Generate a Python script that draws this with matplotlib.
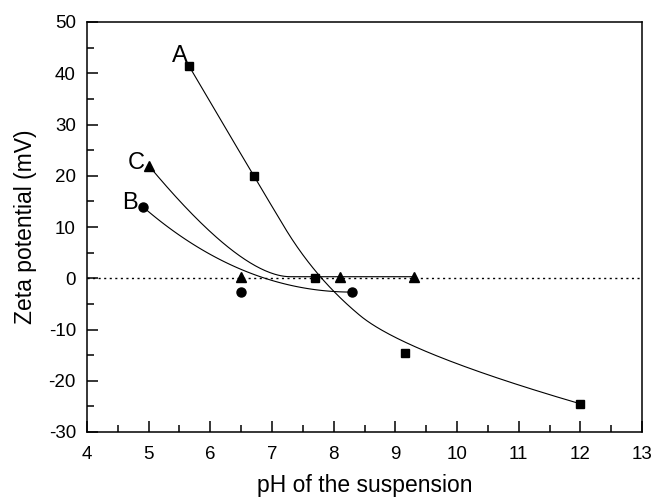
import numpy as np
import matplotlib
matplotlib.use('Agg')
import matplotlib.pyplot as plt
from matplotlib.ticker import MultipleLocator

plt.rcParams['font.family'] = ['Liberation Sans', 'DejaVu Sans']
plt.rcParams['axes.unicode_minus'] = False

# sample A (squares)
ph_a = [5.65, 6.7, 7.7, 9.15, 12.0]
zeta_a = [41.5, 20.0, 0.0, -14.5, -24.5]
# sample B (circles)
ph_b = [4.9, 6.5, 8.3]
zeta_b = [14.0, -2.7, -2.7]
# sample C (triangles)
ph_c = [5.0, 6.5, 8.1, 9.3]
zeta_c = [22.0, 0.3, 0.3, 0.3]


def bspline2(x, y, n=100):
    # quadratic clamped uniform B-spline, the data points are the control points
    p = np.column_stack([x, y]).astype(float)
    ends = [p[0]] + [(p[i] + p[i + 1]) / 2 for i in range(1, len(p) - 2)] + [p[-1]]
    t = np.linspace(0, 1, n)[:, None]
    out = []
    for i in range(len(ends) - 1):
        a, c, b = ends[i], p[i + 1], ends[i + 1]
        out.append((1 - t) ** 2 * a + 2 * t * (1 - t) * c + t ** 2 * b)
    out = np.vstack(out)
    return out[:, 0], out[:, 1]


fig = plt.figure(figsize=(6.55, 5.0), dpi=100)
ax = fig.add_axes([87 / 655, 68 / 500, 555 / 655, 410 / 500])

ax.axhline(0, color='black', lw=1, ls=(0, (1.5, 2.5)))

for xs, ys, mk in [(ph_a, zeta_a, 's'), (ph_b, zeta_b, 'o'), (ph_c, zeta_c, '^')]:
    fx, fy = bspline2(xs, ys)
    ax.plot(fx, fy, color='black', lw=0.8)
    ax.plot(xs, ys, mk, color='black', ms=6.5 if mk != 's' else 6)

ax.text(ph_a[0] - 0.02, zeta_a[0] + 0.6, 'A', fontsize=17, ha='right', va='baseline')
ax.text(ph_b[0] - 0.08, zeta_b[0] + 0.6, 'B', fontsize=17, ha='right', va='center')
ax.text(ph_c[0] - 0.06, zeta_c[0] + 0.5, 'C', fontsize=17, ha='right', va='center')

ax.set_xlim(4, 13)
ax.set_ylim(-30, 50)
ax.xaxis.set_major_locator(MultipleLocator(1))
ax.xaxis.set_minor_locator(MultipleLocator(0.5))
ax.yaxis.set_major_locator(MultipleLocator(10))
ax.yaxis.set_minor_locator(MultipleLocator(5))
ax.tick_params(which='both', direction='in', top=False, right=False, width=1.1,
               labelsize=13.5)
ax.tick_params(axis='x', pad=10)
ax.tick_params(axis='y', pad=8)
ax.tick_params(which='major', length=8)
ax.tick_params(which='minor', length=5)
for s in ax.spines.values():
    s.set_linewidth(1.1)

ax.set_xlabel('pH of the suspension', fontsize=16.5, labelpad=8)
ax.set_ylabel('Zeta potential (mV)', fontsize=16.5, labelpad=8)

fig.savefig('out.png', dpi=100)
